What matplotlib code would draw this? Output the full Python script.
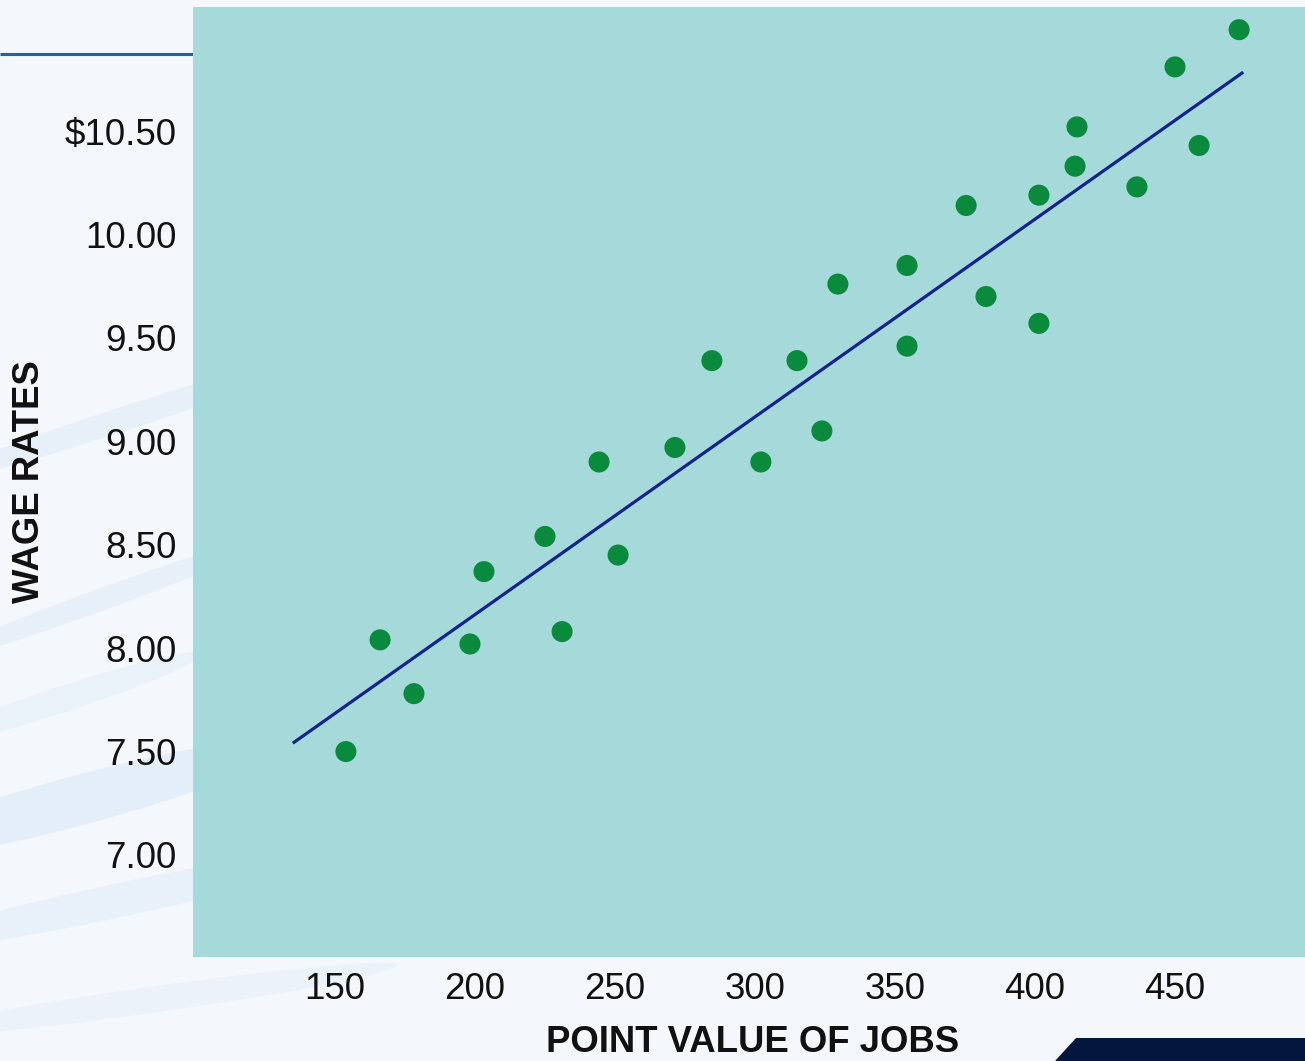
import matplotlib
matplotlib.use("Agg")
import matplotlib.pyplot as plt
from matplotlib.patches import Polygon, Ellipse
import numpy as np

plt.rcParams['font.family'] = ['Liberation Sans', 'DejaVu Sans']

# Data
points_x = [153.9, 166.1, 178.2, 198.2, 203.2, 225.0, 231.1, 244.3, 251.1, 271.4,
            284.6, 302.1, 315.0, 323.9, 329.6, 354.3, 354.3, 375.4, 382.5, 401.4,
            401.4, 414.3, 415.0, 436.4, 450.0, 458.6, 472.9]
wage_rates = [7.50, 8.04, 7.78, 8.02, 8.37, 8.54, 8.08, 8.90, 8.45, 8.97,
              9.39, 8.90, 9.39, 9.05, 9.76, 9.85, 9.46, 10.14, 9.70, 10.19,
              9.57, 10.33, 10.52, 10.23, 10.81, 10.43, 10.99]
trend_x = [135.4, 473.9]
trend_y = [7.545, 10.78]
x_ticks = [150, 200, 250, 300, 350, 400, 450]
y_ticks = [7.0, 7.5, 8.0, 8.5, 9.0, 9.5, 10.0, 10.5]
y_tick_labels = ["7.00", "7.50", "8.00", "8.50", "9.00", "9.50", "10.00", "$10.50"]

W, H = 1305, 1061
fig = plt.figure(figsize=(W / 100, H / 100), dpi=100)
fig.patch.set_facecolor('#f4f7fc')

# decorative background swooshes (left side)
bg = fig.add_axes([0, 0, 1, 1])
bg.set_xlim(0, W)
bg.set_ylim(H, 0)
bg.axis('off')
for (cx, cy, w, h, a, alpha) in [(120, 420, 420, 24, -18, 0.14), (100, 600, 380, 22, -20, 0.14),
                                  (80, 800, 420, 50, -15, 0.18), (120, 900, 460, 34, -12, 0.13),
                                  (60, 700, 300, 26, -18, 0.12), (150, 1000, 500, 26, -8, 0.10)]:
    bg.add_patch(Ellipse((cx, cy), w, h, angle=a, color='#9cc8ea', alpha=alpha, lw=0))
bg.plot([0, 193], [54, 54], color='#1f64a0', lw=2.2, solid_capstyle='butt')
bg.add_patch(Polygon([[1055, 1061], [1076, 1038], [W, 1038], [W, 1061]], closed=True,
                     color='#03163d', lw=0))

left, right, top, bottom = 193, 1305, 7, 957
ax = fig.add_axes([left / W, 1 - bottom / H, (right - left) / W, (bottom - top) / H])
ax.set_facecolor('#a6d9da')
xmin = 150 - (335 - 193) / 2.8
xmax = 150 + (1305 - 335) / 2.8
ymax = 10.5 + (131 - 7) / 206.8
ymin = 7.0 - (957 - 855) / 206.8
ax.set_xlim(xmin, xmax)
ax.set_ylim(ymin, ymax)

ax.plot(trend_x, trend_y, color='#14238c', lw=2.3, zorder=2)
ax.scatter(points_x, wage_rates, s=230, color='#0a8a3c', edgecolors='none', zorder=3)

ax.set_xticks(x_ticks)
ax.set_xticklabels([str(v) for v in x_ticks])
ax.set_yticks(y_ticks)
ax.set_yticklabels(y_tick_labels)
ax.tick_params(axis='both', length=0, labelsize=26.5, colors='#111111')
ax.tick_params(axis='y', pad=12)
ax.tick_params(axis='x', pad=11)
for s in ax.spines.values():
    s.set_visible(False)

fig.text(753 / W, 1 - 1043 / H, "POINT VALUE OF JOBS", ha='center', va='center',
         fontsize=26.3, fontweight='bold', color='#111111')
fig.text(30 / W, 1 - 482 / H, "WAGE RATES", ha='center', va='center', rotation=90,
         fontsize=26.3, fontweight='bold', color='#111111')

fig.savefig('out.png', dpi=100, facecolor=fig.get_facecolor())
